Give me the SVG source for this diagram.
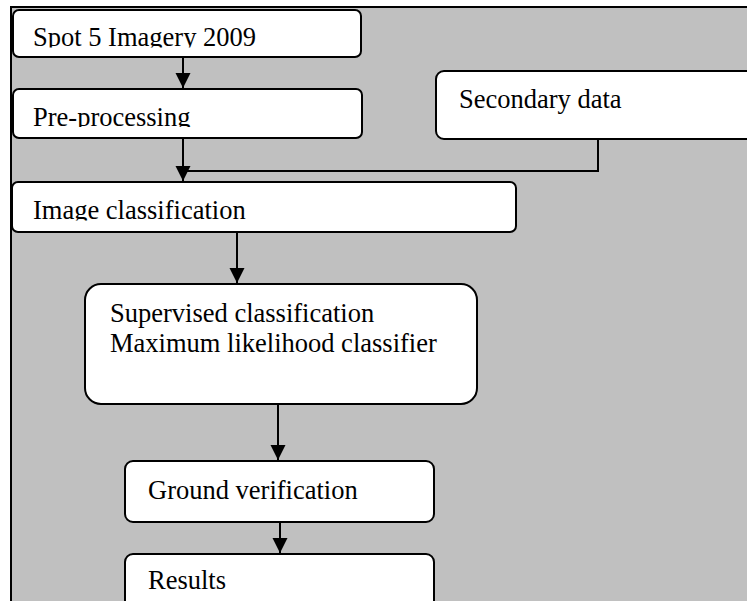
<svg xmlns="http://www.w3.org/2000/svg" width="747" height="601" viewBox="0 0 747 601">
<style>
.box{fill:#fff;stroke:#000;stroke-width:2}
.t{font-family:"Liberation Serif","Times New Roman",serif;font-size:26.5px;fill:#000}
.ln{fill:none;stroke:#000;stroke-width:2}
</style>
<defs>
<marker id="arr" markerUnits="userSpaceOnUse" markerWidth="16" markerHeight="16" viewBox="0 0 16 16" refX="15" refY="8" orient="auto">
<path d="M0,0.5 L15,8 L0,15.5 Z" fill="#000"/>
</marker>
<clipPath id="c1"><rect x="0" y="0" width="747" height="47.5"/></clipPath>
<clipPath id="c2"><rect x="0" y="60" width="747" height="67"/></clipPath>
<clipPath id="c3"><rect x="0" y="185" width="747" height="35.5"/></clipPath>
</defs>
<rect x="11" y="7" width="740" height="600" fill="#c0c0c0" stroke="#000" stroke-width="2"/>
<g id="connectors">
<line class="ln" x1="183" y1="57" x2="183" y2="88" marker-end="url(#arr)"/>
<line class="ln" x1="183" y1="138" x2="183" y2="181" marker-end="url(#arr)"/>
<polyline class="ln" points="183,171 598,171 598,139"/>
<line class="ln" x1="237" y1="232" x2="237" y2="283" marker-end="url(#arr)"/>
<line class="ln" x1="278" y1="404" x2="278" y2="460" marker-end="url(#arr)"/>
<line class="ln" x1="280" y1="522" x2="280" y2="553" marker-end="url(#arr)"/>
</g>
<g id="spot5">
<rect class="box" x="13" y="10" width="348" height="47" rx="6"/>
<text class="t" x="33" y="46" clip-path="url(#c1)">Spot 5 Imagery 2009</text>
</g>
<g id="preprocessing">
<rect class="box" x="13" y="89" width="349" height="49" rx="6"/>
<text class="t" x="33" y="126" clip-path="url(#c2)">Pre-processing</text>
</g>
<g id="secondary">
<rect class="box" x="436" y="71" width="330" height="68" rx="8"/>
<text class="t" x="459" y="108">Secondary data</text>
</g>
<g id="imageclass">
<rect class="box" x="12" y="182" width="504" height="50" rx="6"/>
<text class="t" x="33" y="219" clip-path="url(#c3)">Image classification</text>
</g>
<g id="supervised">
<rect class="box" x="85" y="284" width="392" height="120" rx="16"/>
<text class="t" x="110" y="322">Supervised classification</text>
<text class="t" x="110" y="352">Maximum likelihood classifier</text>
</g>
<g id="ground">
<rect class="box" x="125" y="461" width="309" height="61" rx="8"/>
<text class="t" x="148" y="499">Ground verification</text>
</g>
<g id="results">
<rect class="box" x="125" y="554" width="309" height="70" rx="8"/>
<text class="t" x="148" y="589">Results</text>
</g>
</svg>
